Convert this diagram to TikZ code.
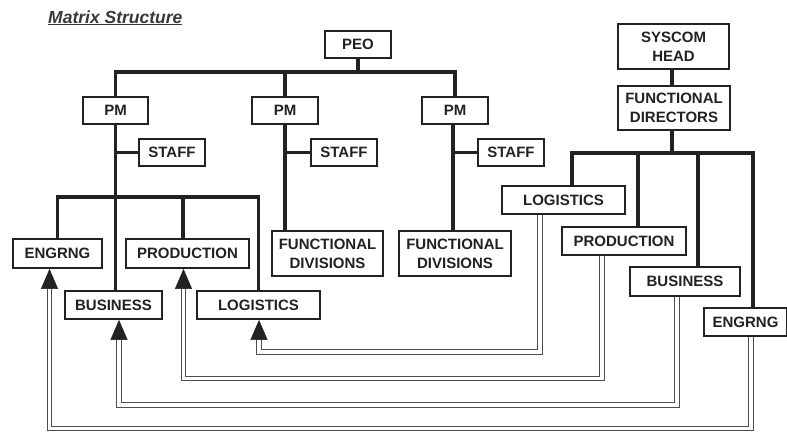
\documentclass[tikz,border=0pt]{standalone}
\usepackage{fontspec}
\setmainfont{Liberation Sans}
\usetikzlibrary{arrows.meta,calc}
\definecolor{ink}{HTML}{222222}
\begin{document}
\begin{tikzpicture}[x=1pt,y=-1pt,
  box/.style={draw=ink, line width=1.8pt, fill=white, text=ink, align=center, inner sep=0pt,
    font=\bfseries\fontsize{15}{19}\selectfont},
  tree/.style={draw=ink, line width=3.2pt},
  fb/.style={draw=ink!80, line width=1pt, double=white, double distance=3.6pt},
  tip/.style={-{Triangle[length=20pt,width=17pt]}, draw=ink, fill=ink, line width=0.6pt}]
\useasboundingbox (0,0) rectangle (787,432);

% title
\node[anchor=base west, text=ink!90, font=\bfseries\itshape\fontsize{17.5}{21}\selectfont, inner sep=0pt]
  (title) at (48,23) {\underline{Matrix Structure}};

% boxes
\node[box, minimum width=66pt, minimum height=27pt] (PEO) at (358,44.5) {PEO};
\node[box, minimum width=65pt, minimum height=27pt] (PM1) at (115.5,110.5) {PM};
\node[box, minimum width=66pt, minimum height=27pt] (PM2) at (285,110.5) {PM};
\node[box, minimum width=66pt, minimum height=27pt] (PM3) at (455,110.5) {PM};
\node[box, minimum width=66pt, minimum height=27pt] (ST1) at (172,152.5) {STAFF};
\node[box, minimum width=66pt, minimum height=27pt] (ST2) at (344,152.5) {STAFF};
\node[box, minimum width=66pt, minimum height=27pt] (ST3) at (511,152.5) {STAFF};
\node[box, minimum width=89pt, minimum height=29pt] (lENG) at (57.5,253.5) {ENGRNG};
\node[box, minimum width=123pt, minimum height=29pt] (lPROD) at (187.5,253.5) {PRODUCTION};
\node[box, minimum width=97pt, minimum height=28pt] (lBUS) at (113.5,305) {BUSINESS};
\node[box, minimum width=123pt, minimum height=28pt] (lLOG) at (258.5,305) {LOGISTICS};
\node[box, minimum width=111pt, minimum height=45pt] (FD1) at (327.5,253.5) {FUNCTIONAL\\DIVISIONS};
\node[box, minimum width=112pt, minimum height=45pt] (FD2) at (455,253.5) {FUNCTIONAL\\DIVISIONS};
\node[box, minimum width=111pt, minimum height=45pt] (SYS) at (673.5,46.5) {SYSCOM\\HEAD};
\node[box, minimum width=112pt, minimum height=44pt] (FDIR) at (674,108) {FUNCTIONAL\\DIRECTORS};
\node[box, minimum width=123pt, minimum height=28pt] (rLOG) at (563.5,200) {LOGISTICS};
\node[box, minimum width=124pt, minimum height=28pt] (rPROD) at (624,241) {PRODUCTION};
\node[box, minimum width=110pt, minimum height=29pt] (rBUS) at (685,281.5) {BUSINESS};
\node[box, minimum width=83pt, minimum height=28pt] (rENG) at (745.5,322) {ENGRNG};

% bar levels
\coordinate (tb) at (0,72);
\coordinate (lb) at (0,197);
\coordinate (rb1) at (572,153);
\coordinate (rb2) at (638,153);
\coordinate (rb3) at (698,153);
\coordinate (rb4) at (753,153);

% PEO tree
\draw[tree] (PEO.south) -- (PEO.south |- tb);
\draw[tree] (PM1.north) -- (PM1.north |- tb) -- (PM3.north |- tb) -- (PM3.north);
\draw[tree] (PM2.north) -- (PM2.north |- tb);
% PM1 column
\draw[tree] (PM1.south) -- (PM1.south |- lBUS.north);
\draw[tree] (ST1.west) -- (ST1.west -| PM1.south);
\draw[tree] (lENG.north) -- (lENG.north |- lb) -- (lLOG.north |- lb) -- (lLOG.north);
\draw[tree] ([xshift=-4.5pt]lPROD.north) -- ([xshift=-4.5pt]lPROD.north |- lb);
% PM2 column
\draw[tree] (PM2.south) -- (PM2.south |- FD1.north);
\draw[tree] (ST2.west) -- (ST2.west -| PM2.south);
% PM3 column
\draw[tree] ([xshift=-2pt]PM3.south) -- ([xshift=-2pt]PM3.south |- FD2.north);
\draw[tree] (ST3.west) -- (ST3.west -| 453,0);
% SYSCOM tree
\draw[tree] ([xshift=-1.5pt]SYS.south) -- ([xshift=-1.5pt]SYS.south |- FDIR.north);
\draw[tree] ([xshift=-2pt]FDIR.south) -- ([xshift=-2pt]FDIR.south |- rb1);
\draw[tree] (rb1 |- rLOG.north) -- (rb1) -- (rb4) -- (rb4 |- rENG.north);
\draw[tree] (rb2) -- (rb2 |- rPROD.north);
\draw[tree] (rb3) -- (rb3 |- rBUS.north);

% feedback arrow bases
\coordinate (aLOG) at (259,339);
\coordinate (aPROD) at (183.5,288);
\coordinate (aBUS) at (119,339);
\coordinate (aENG) at (49.5,288);

% feedback lines
\draw[fb] (540,0 |- rLOG.south) -- (540,352) -| (aLOG);
\draw[fb] (602,0 |- rPROD.south) -- (602,378.5) -| (aPROD);
\draw[fb] (677,0 |- rBUS.south) -- (677,405) -| (aBUS);
\draw[fb] (751,0 |- rENG.south) -- (751,428.5) -| (aENG);

% arrowheads
\draw[tip] (aLOG) -- (aLOG |- lLOG.south);
\draw[tip] (aPROD) -- (aPROD |- lPROD.south);
\draw[tip] (aBUS) -- (aBUS |- lBUS.south);
\draw[tip] (aENG) -- (aENG |- lENG.south);
\end{tikzpicture}
\end{document}
